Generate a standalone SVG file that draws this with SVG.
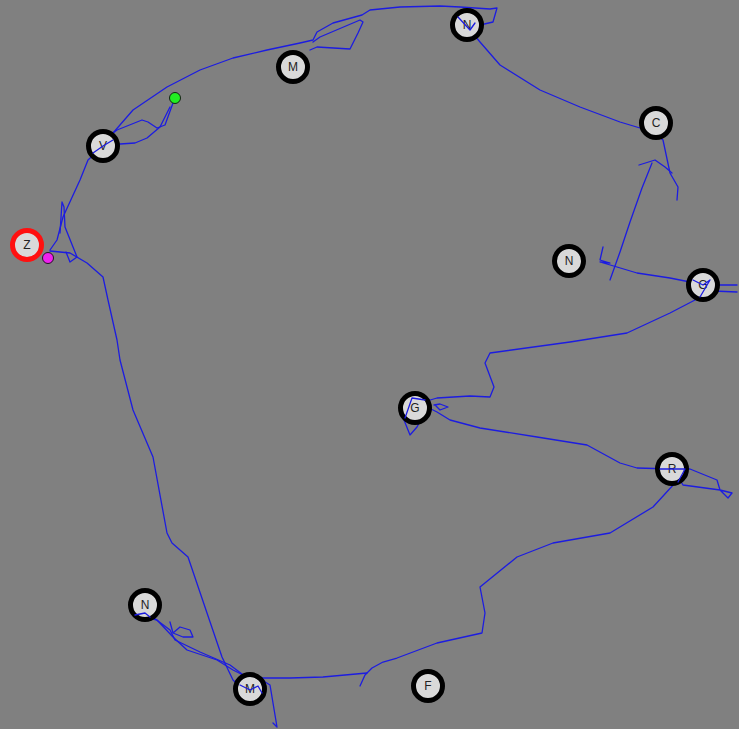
<svg xmlns="http://www.w3.org/2000/svg" width="739" height="729" viewBox="0 0 739 729">
<style>
.n circle{fill:#d9d9d9;stroke:#000;stroke-width:5}
.n text{font-family:"Liberation Sans",Arial,sans-serif;font-size:12px;fill:#222;text-anchor:middle;dominant-baseline:central}
.t{fill:none;stroke:#1c1ce0;stroke-width:1.3;stroke-linejoin:round;stroke-linecap:round}
</style>
<rect width="739" height="729" fill="#808080"/>
<g id="connectors">
<polyline class="t" points="50,250 57,240 63,217 80,180 88,160 103,146 113,133 133,110 167,87 200,70 233,58 267,50 300,43 313,40 317,32 333,23 362,15 370,10 400,7 440,6 460,7 490,9 497,8 493,22 480,25 465,22 458,17"/>
<polyline class="t" points="310,50 317,47 350,49 358,33 363,22 360,20 320,37 313,42"/>
<polyline class="t" points="460,18 470,30 480,42 500,65 540,90 580,107 620,122 640,128 653,132 663,140 670,173 678,187 677,200"/>
<polyline class="t" points="639,165 655,160 665,167 672,173"/>
<polyline class="t" points="652,163 642,188 630,222 620,252 610,280"/>
<polyline class="t" points="603,247 600,260 610,263 600,262 617,267 637,273 670,278 690,282 703,285 737,285"/>
<polyline class="t" points="690,290 737,292"/>
<polyline class="t" points="708,274 700,288 695,300 670,313 627,333 570,342 490,353 485,363 494,387 490,397 470,396 437,398 420,403 410,407 404,420 410,435 417,427 425,412"/>
<polyline class="t" points="434,405 440,404 448,407 440,410 436,406"/>
<polyline class="t" points="425,406 437,412 450,420 480,428 537,437 587,445 620,463 637,468 672,469 690,469 717,480 720,490 732,493 728,498 720,490 683,485 680,480"/>
<polyline class="t" points="680,475 675,483 653,507 610,533 553,543 517,557 480,587 485,613 482,633 437,643 397,658 383,662 372,668 365,675 360,686"/>
<polyline class="t" points="367,673 323,677 290,678 262,678"/>
<polyline class="t" points="50,251 70,253 87,263 103,277 108,300 117,340 120,360 133,410 153,457 167,533 172,543 188,557 207,613 222,657 233,680 243,690 252,695"/>
<polyline class="t" points="60,233 62,202 64,207 65,227 77,257 70,262 66,252"/>
<polyline class="t" points="145,617 157,620 173,637 187,650 217,660 233,670 247,677 262,688 252,694 240,688"/>
<polyline class="t" points="150,615 170,630 175,640 200,652 230,665 250,680"/>
<polyline class="t" points="170,622 173,633 180,627 190,630 193,637 183,637 173,633"/>
<polyline class="t" points="262,680 270,685 273,703 277,727 273,723"/>
<polyline class="t" points="173,103 165,125 157,128 148,122 142,120 117,130 113,133"/>
<polyline class="t" points="170,107 160,127 147,138 135,143 120,144 100,150 93,153"/>
<polyline class="t" points="95,140 103,150 110,143"/>
</g>
<g id="node-N-top" class="n"><circle cx="467" cy="25" r="14.5"/><text x="467" y="25">N</text></g>
<g id="node-M-top" class="n"><circle cx="293" cy="67" r="14.5"/><text x="293" y="67">M</text></g>
<g id="node-V" class="n"><circle cx="103" cy="146" r="14.5"/><text x="103" y="146">V</text></g>
<g id="node-Z" class="n"><circle cx="27" cy="245" r="14.5" style="stroke:#ff1010"/><text x="27" y="245">Z</text></g>
<g id="node-C" class="n"><circle cx="656" cy="123" r="14.5"/><text x="656" y="123">C</text></g>
<g id="node-N-mid" class="n"><circle cx="569" cy="261" r="14.5"/><text x="569" y="261">N</text></g>
<g id="node-G-right" class="n"><circle cx="703" cy="285" r="14.5"/><text x="703" y="285">G</text></g>
<g id="node-G-center" class="n"><circle cx="415" cy="408" r="14.5"/><text x="415" y="408">G</text></g>
<g id="node-R" class="n"><circle cx="672" cy="469" r="14.5"/><text x="672" y="469">R</text></g>
<g id="node-N-bottom" class="n"><circle cx="145" cy="605" r="14.5"/><text x="145" y="605">N</text></g>
<g id="node-M-bottom" class="n"><circle cx="250" cy="689" r="14.5"/><text x="250" y="689">M</text></g>
<g id="node-F" class="n"><circle cx="428" cy="686" r="14.5"/><text x="428" y="686">F</text></g>
<g id="overlay">
<polyline class="t" points="458,17 470,30 475,23"/>
<polyline class="t" points="93,153 103,146 113,140"/>
<polyline class="t" points="693,280 703,285 710,280 700,297"/>
<polyline class="t" points="660,469 685,469 678,482"/>
<polyline class="t" points="135,615 145,613 150,617"/>
<polyline class="t" points="240,685 250,690 258,686 262,693"/>
<polyline class="t" points="405,418 412,398 425,400"/>
</g>
<circle id="start" cx="175" cy="98" r="5.5" fill="#22ee22" stroke="#000" stroke-width="0.8"/>
<circle id="end" cx="48" cy="258" r="5.5" fill="#ee22ee" stroke="#000" stroke-width="0.8"/>
</svg>
